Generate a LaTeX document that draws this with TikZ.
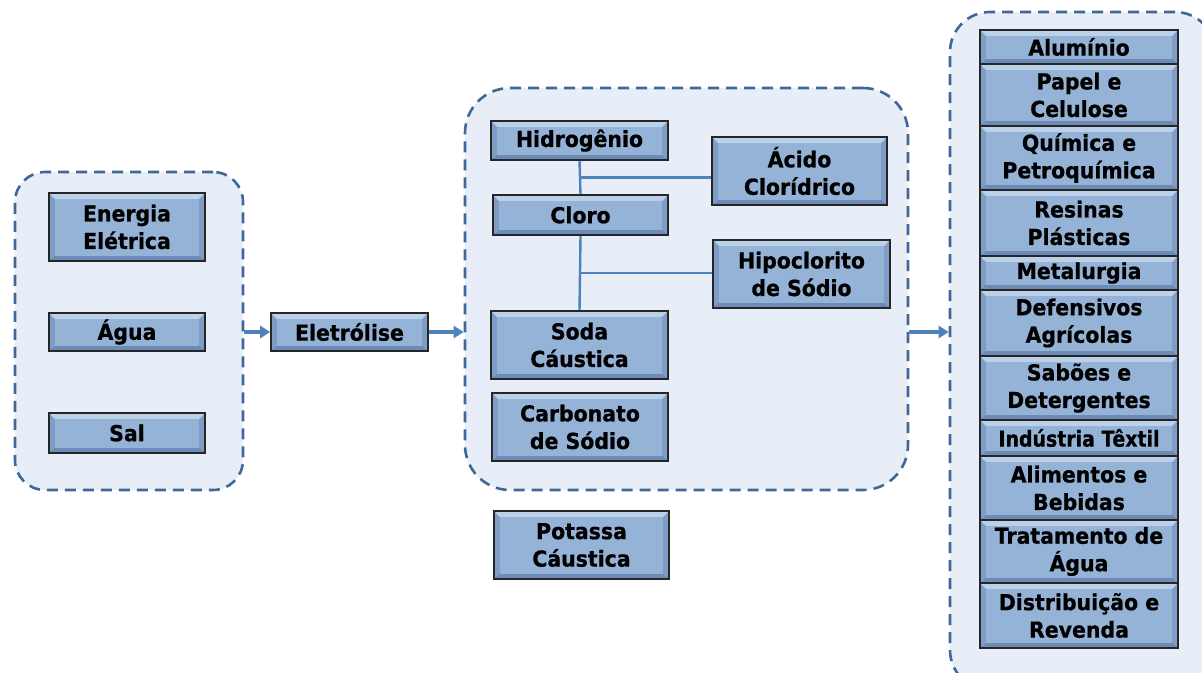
\documentclass[tikz,border=0pt]{standalone}
\usepackage{fontspec}
\setmainfont{DejaVu Sans}
\newfontfamily\boxfont{DejaVu Sans}[FakeStretch=0.93, BoldFeatures={FakeBold=0.8}]
\newfontfamily\narrowfont{DejaVu Sans}[FakeStretch=0.86, BoldFeatures={FakeBold=0.8}]
\usetikzlibrary{calc,arrows.meta}
\definecolor{boxmain}{HTML}{95B3D7}
\definecolor{boxtop}{HTML}{BCD0E8}
\definecolor{boxside}{HTML}{7F9DC6}
\definecolor{boxbot}{HTML}{6C8BB6}
\definecolor{grpfill}{HTML}{E8EEF7}
\definecolor{grpline}{HTML}{3F6797}
\definecolor{linkblue}{HTML}{4F81BD}
\tikzset{
  box/.style={draw=black!85, line width=1.6pt, fill=boxmain, inner sep=0pt, align=center,
    font=\boxfont\fontsize{22}{27.5}\selectfont\bfseries,
    path picture={
      \fill[boxside] (path picture bounding box.south west) rectangle (path picture bounding box.north east);
      \fill[boxtop] (path picture bounding box.north west) -- (path picture bounding box.north east)
        -- ([xshift=-6pt,yshift=-6pt]path picture bounding box.north east)
        -- ([xshift=6pt,yshift=-6pt]path picture bounding box.north west) -- cycle;
      \fill[boxbot] (path picture bounding box.south west) -- (path picture bounding box.south east)
        -- ([xshift=-6pt,yshift=5pt]path picture bounding box.south east)
        -- ([xshift=6pt,yshift=5pt]path picture bounding box.south west) -- cycle;
      \fill[boxmain] ([xshift=6pt,yshift=5pt]path picture bounding box.south west) rectangle ([xshift=-6pt,yshift=-6pt]path picture bounding box.north east);
    }},
  group/.style={draw=grpline, fill=grpfill, line width=2.6pt, dash pattern=on 11pt off 7pt, rounded corners=#1, inner sep=0pt},
  arr/.style={draw=linkblue, line width=3.5pt, -{Triangle[length=10pt,width=12pt]}},
  conn/.style={draw=linkblue, line width=2.4pt},
}
\begin{document}
\begin{tikzpicture}[x=1pt,y=-1pt]
\useasboundingbox (0,0) rectangle (1202,672);
\clip (0,0) rectangle (1202,672);
% groups
\node[group=30pt, minimum width=228pt, minimum height=318pt] (g1) at (129,331) {};
\node[group=45pt, minimum width=443pt, minimum height=402pt] (g2) at (686.5,289) {};
\node[group=40pt, minimum width=265pt, minimum height=678pt] (g3) at (1082.5,351) {};
% left
\node[box, minimum width=156pt, minimum height=68pt] (en) at (127,227) {Energia\\Elétrica};
\node[box, minimum width=156pt, minimum height=38pt] (ag) at (127,332) {Água};
\node[box, minimum width=156pt, minimum height=40pt] (sal) at (127,433) {Sal};
\node[box, minimum width=157pt, minimum height=38pt] (ele) at (349.5,332) {Eletrólise};
% middle
\node[box, minimum width=177pt, minimum height=39pt] (hid) at (579.5,140.5) {Hidrogênio};
\node[box, minimum width=175pt, minimum height=40pt] (clo) at (580.5,215) {Cloro};
\node[box, minimum width=175pt, minimum height=68pt] (aci) at (799.5,171) {Ácido\\Clorídrico};
\node[box, minimum width=177pt, minimum height=68pt] (hip) at (801.5,274) {Hipoclorito\\de Sódio};
\node[box, minimum width=177pt, minimum height=68pt] (soda) at (579.5,345) {Soda\\Cáustica};
\node[box, minimum width=176pt, minimum height=68pt] (carb) at (580,427) {Carbonato\\de Sódio};
\node[box, minimum width=175pt, minimum height=68pt] (pot) at (581.5,545) {Potassa\\Cáustica};
% right
\node[box, minimum width=198pt, minimum height=34pt] (alu) at (1079,47) {Alumínio};
\node[box, minimum width=198pt, minimum height=62pt] (pap) at (1079,95) {Papel e\\Celulose};
\node[box, minimum width=198pt, minimum height=64pt] (qui) at (1079,158) {Química e\\Petroquímica};
\node[box, minimum width=198pt, minimum height=66pt] (res) at (1079,223) {Resinas\\Plásticas};
\node[box, minimum width=198pt, minimum height=34pt] (met) at (1079,273) {Metalurgia};
\node[box, minimum width=198pt, minimum height=66pt] (def) at (1079,323) {Defensivos\\Agrícolas};
\node[box, minimum width=198pt, minimum height=64pt] (sab) at (1079,388) {Sabões e\\Detergentes};
\node[box, minimum width=198pt, minimum height=36pt, font=\narrowfont\fontsize{22}{27.5}\selectfont\bfseries] (ind) at (1079,438) {Indústria Têxtil};
\node[box, minimum width=198pt, minimum height=64pt] (ali) at (1079,488) {Alimentos e\\Bebidas};
\node[box, minimum width=198pt, minimum height=63pt] (tra) at (1079,551.5) {Tratamento de\\Água};
\node[box, minimum width=198pt, minimum height=65pt] (dis) at (1079,615.5) {Distribuição e\\Revenda};
% connectors
\draw[conn] (hid.south) -- (clo.north);
\coordinate (j1) at ($(hid.south)!0.5!(clo.north)$);
\draw[conn] (j1) -- (j1 -| aci.west);
\draw[conn] (clo.south) -- (soda.north);
\coordinate (j2) at ($(clo.south)!0.5!(soda.north)$);
\draw[conn] (j2) -- (j2 -| hip.west);
% arrows
\draw[arr] (ele.west -| g1.east) -- (ele.west);
\draw[arr] (ele.east) -- (ele.east -| g2.west);
\draw[arr] (ele -| g2.east) -- (ele -| g3.west);
\end{tikzpicture}
\end{document}
